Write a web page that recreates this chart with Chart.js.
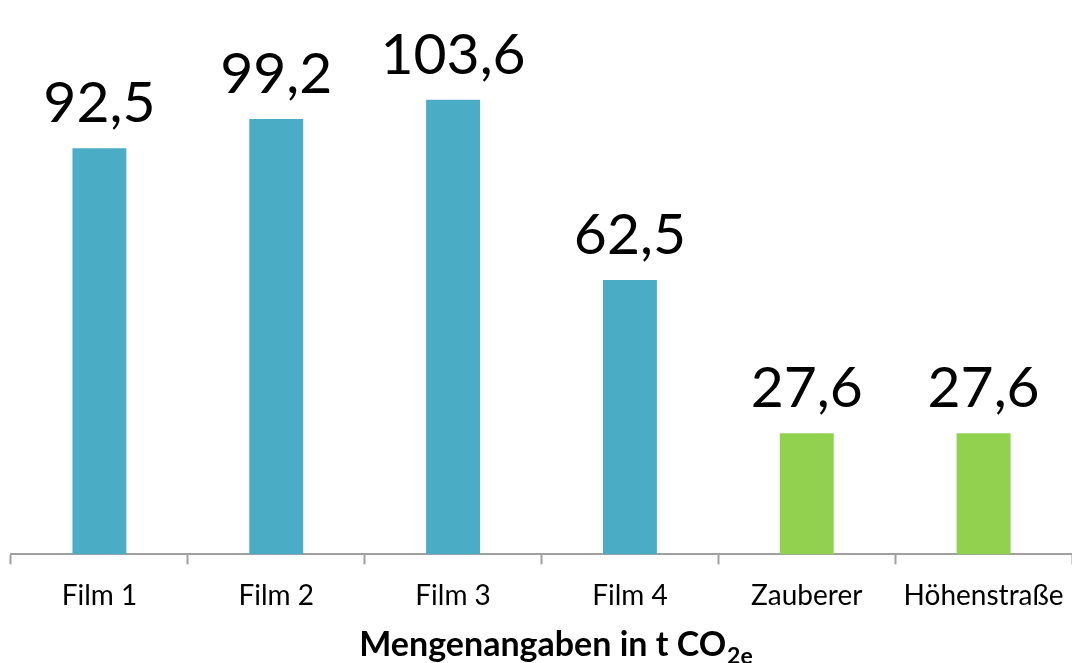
<!DOCTYPE html>
<html>
<head>
<meta charset="utf-8">
<script src="https://cdn.jsdelivr.net/npm/chart.js@4"></script>
<style>
  html, body { margin: 0; padding: 0; background: #fff; }
  #wrap { width: 1072px; height: 663px; }
</style>
</head>
<body>
<div id="wrap"><canvas id="chart"></canvas></div>
<script>
const categories = ["Film 1", "Film 2", "Film 3", "Film 4", "Zauberer", "Höhenstraße"];
const values = [92.5, 99.2, 103.6, 62.5, 27.6, 27.6];
const barColors = ["#4BACC6", "#4BACC6", "#4BACC6", "#4BACC6", "#92D050", "#92D050"];
const titleMain = "Mengenangaben in t CO";
const titleSub = "2e";

const FONT = "Lato, 'Open Sans', sans-serif";

// Werte über den Balken (mit Komma)
const valueLabels = {
  id: "valueLabels",
  afterDatasetsDraw(chart) {
    const ctx = chart.ctx;
    const meta = chart.getDatasetMeta(0);
    ctx.save();
    ctx.font = "57px " + FONT;
    ctx.fillStyle = "#000";
    ctx.textAlign = "center";
    ctx.textBaseline = "alphabetic";
    meta.data.forEach((bar, i) => {
      const txt = values[i].toFixed(1).replace(".", ",");
      ctx.fillText(txt, bar.x, bar.y - 26);
    });
    ctx.restore();
  }
};

// Achsentitel mit Tiefstellung
const bottomTitle = {
  id: "bottomTitle",
  afterDraw(chart) {
    const ctx = chart.ctx;
    const area = chart.chartArea;
    ctx.save();
    ctx.fillStyle = "#000";
    ctx.textBaseline = "alphabetic";
    ctx.font = "bold 34px " + FONT;
    const w1 = ctx.measureText(titleMain).width;
    ctx.font = "bold 23px " + FONT;
    const w2 = ctx.measureText(titleSub).width;
    const cx = (area.left + area.right) / 2 + 14;
    const x0 = cx - (w1 + w2) / 2;
    ctx.font = "bold 34px " + FONT;
    ctx.textAlign = "left";
    ctx.fillText(titleMain, x0, 656);
    ctx.font = "bold 23px " + FONT;
    ctx.fillText(titleSub, x0 + w1 + 1, 664);
    ctx.restore();
  }
};

new Chart(document.getElementById("chart"), {
  type: "bar",
  data: {
    labels: categories,
    datasets: [{
      data: values,
      backgroundColor: barColors,
      borderWidth: 0,
      categoryPercentage: 1,
      barPercentage: 0.305
    }]
  },
  options: {
    responsive: true,
    maintainAspectRatio: false,
    animation: false,
    layout: { padding: { left: 11, right: 0, top: 0, bottom: 35 } },
    plugins: {
      legend: { display: false },
      tooltip: { enabled: false }
    },
    scales: {
      x: {
        afterFit(scale) {
          // keine Extra-Polsterung für breite Randbeschriftungen
          scale.paddingLeft = 0;
          scale.paddingRight = 0;
        },
        grid: {
          display: true,
          drawOnChartArea: false,
          drawTicks: true,
          tickLength: 10,
          tickColor: "#a0a0a0",
          tickWidth: 2,
          offset: true
        },
        border: { display: true, color: "#a0a0a0", width: 2 },
        ticks: {
          color: "#000",
          font: { family: FONT, size: 28 },
          padding: 15,
          maxRotation: 0,
          autoSkip: false
        }
      },
      y: {
        display: false,
        min: 0,
        max: 126.3
      }
    }
  },
  plugins: [valueLabels, bottomTitle]
});
</script>
</body>
</html>
